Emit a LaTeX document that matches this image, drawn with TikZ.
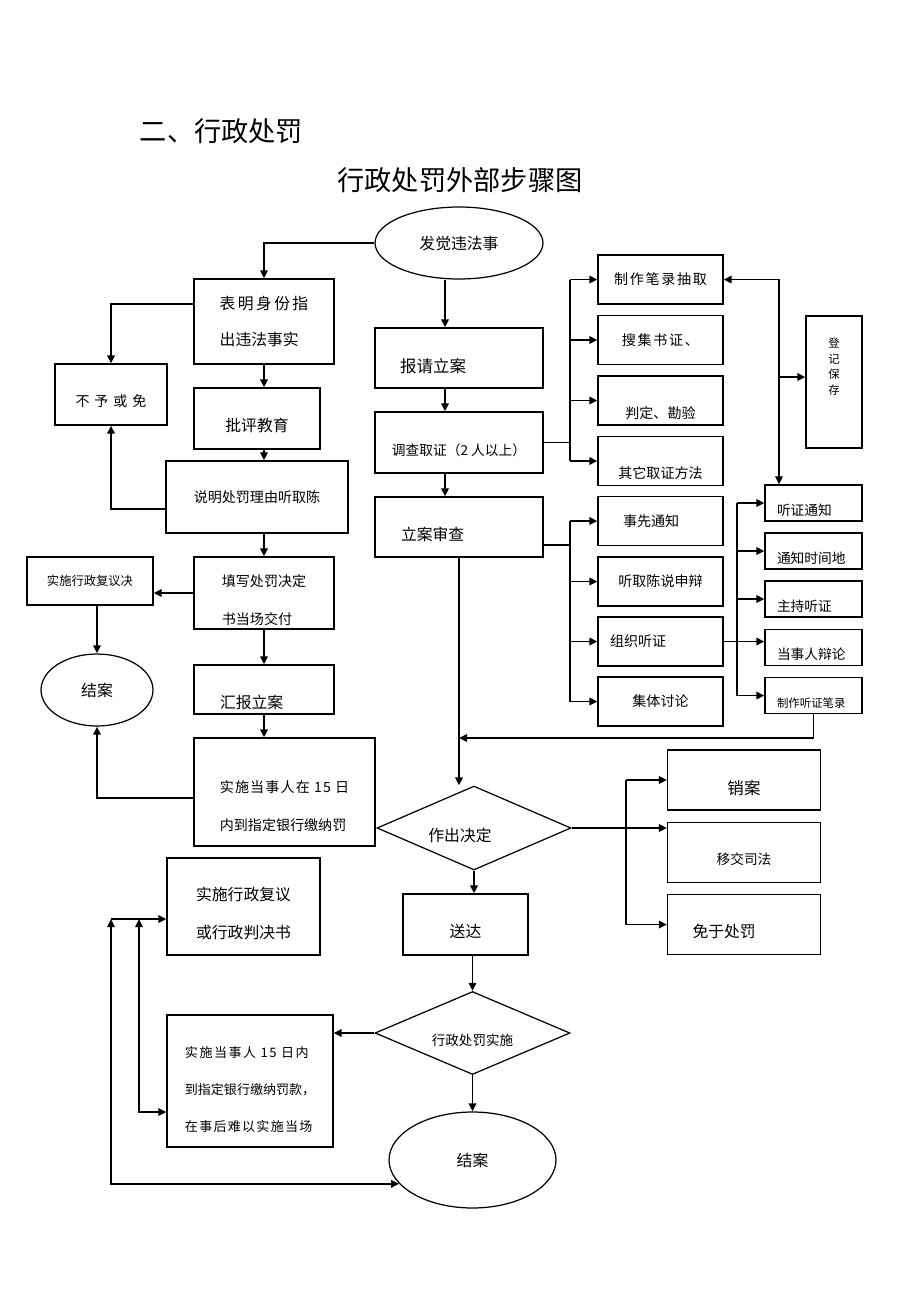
\documentclass[tikz,border=0pt]{standalone}
\usepackage{fontspec}
\setmainfont{Noto Sans CJK SC}
\usetikzlibrary{shapes.geometric, arrows.meta, calc}
\newcommand{\fsz}[2]{\fontsize{#1}{#2}\selectfont}
\newcommand{\lift}[1]{\rule{0pt}{#1}}

\begin{document}
\begin{tikzpicture}[
    x=0.02cm, y=-0.02cm,
    >={Triangle[length=4.6pt,width=4.2pt]},
    box/.style={draw, line width=0.7pt, inner sep=0pt, align=left, font=\fsz{9pt}{21pt}},
    oval/.style={draw, ellipse, line width=0.7pt, inner sep=0pt, font=\fsz{9pt}{11pt}},
    dia/.style={draw, diamond, line width=0.7pt, inner sep=0pt},
    col1/.style={box, minimum width=2.5cm, minimum height=0.98cm, font=\fsz{8pt}{10pt}},
    col2/.style={box, minimum width=1.94cm, minimum height=0.72cm, font=\fsz{7.8pt}{10pt}, lpad={0.24cm}{1.46cm}, sink=14.5pt},
    rbox/.style={box, minimum width=3.06cm, minimum height=1.2cm},
    sink/.style={execute at begin node={\lift{#1}}},
    lpad/.style 2 args={inner xsep=#1, text width=#2},
    link/.style={->, line width=1.1pt},
    wire/.style={line width=1.1pt}
]
    \useasboundingbox (0,0) rectangle (920,1302);

    % titles
    \node (title) [font=\fsz{15.5pt}{18pt}] at (221.5,131) {二、行政处罚};
    \node (subtitle) [font=\fsz{15.5pt}{18pt}] at (460,180) {行政处罚外部步骤图};

    \node (faxian) [oval, minimum width=3.36cm, minimum height=1.44cm] at (459,243) {发觉违法事};

    % left column
    \node (biaoming) [box, minimum width=2.8cm, minimum height=1.7cm] at (264,321.5)
        {{\addfontfeatures{LetterSpace=15}表明身份指}\\出违法事实};
    \node (buyu) [box, minimum width=2.24cm, minimum height=1.22cm, font=\fsz{8pt}{10pt}, sink=14pt] at (111,394.5)
        {\addfontfeatures{LetterSpace=35}不予或免};
    \node (piping) [box, minimum width=2.52cm, minimum height=1.22cm, sink=15pt] at (257,418.5) {批评教育};
    \node (shuoming) [box, minimum width=3.64cm, minimum height=1.44cm, font=\fsz{8pt}{10pt}] at (257,497) {说明处罚理由听取陈};
    \node (tianxie) [box, minimum width=2.8cm, minimum height=1.44cm, font=\fsz{8pt}{21.6pt}] at (264,593)
        {\lift{15pt}填写处罚决定\\书当场交付};
    \node (fuyijue) [box, minimum width=2.52cm, minimum height=0.96cm, font=\fsz{7pt}{9pt}] at (90,581) {实施行政复议决};
    \node (jieanA) [oval, minimum width=2.24cm, minimum height=1.44cm] at (97,690) {结案};
    \node (huibao) [box, minimum width=2.8cm, minimum height=0.98cm, lpad={0.52cm}{1.76cm}, sink=22.9pt] at (264,689.5) {汇报立案};
    \node (shishiA) [box, minimum width=3.62cm, minimum height=2.16cm, font=\fsz{8pt}{21.6pt}] at (284.5,792)
        {\lift{23pt}{\addfontfeatures{LetterSpace=8}实施当事人在 15 日}\\内到指定银行缴纳罚};

    % middle column
    \node (baoqing) [box, minimum width=3.36cm, minimum height=1.2cm, lpad={0.5cm}{2.36cm}, font=\fsz{9.4pt}{11pt}, sink=16.8pt] at (459,358) {报请立案};
    \node (diaocha) [box, minimum width=3.36cm, minimum height=1.22cm, font=\fsz{7.8pt}{10pt}, sink=15pt] at (459,442.5) {调查取证（2 人以上）};
    \node (lian) [box, minimum width=3.36cm, minimum height=1.2cm, lpad={0.52cm}{2.32cm}, sink=15.5pt] at (459,527) {立案审查};

    % evidence boxes
    \node (zhizuo) [col1] at (660.5,279.5) {\addfontfeatures{LetterSpace=12}制作笔录抽取};
    \node (souji) [col1] at (660.5,340) {\addfontfeatures{LetterSpace=12}搜集书证、};
    \node (panding) [col1, sink=21.4pt] at (660.5,400.5) {判定、勘验};
    \node (qita) [col1, sink=20.3pt] at (660.5,461) {其它取证方法};
    \node (dengji) [box, minimum width=1.12cm, minimum height=2.64cm, align=center, font=\fsz{6.5pt}{8.8pt}] at (834,382)
        {登\\记\\保\\存\rule[-18pt]{0pt}{0pt}};

    % review boxes
    \node (shixian) [col1, lpad={0.5cm}{1.5cm}] at (660.5,521) {事先通知};
    \node (tingqu) [col1] at (660.5,581.5) {听取陈说申辩};
    \node (zuzhi) [col1, lpad={0.24cm}{2.02cm}] at (660.5,641.5) {组织听证};
    \node (jiti) [col1] at (660.5,701.5) {集体讨论};

    % hearing boxes
    \node (tzz) [col2] at (813.5,503) {听证通知};
    \node (tzsj) [col2] at (813.5,551) {通知时间地};
    \node (zcz) [col2] at (813.5,599) {主持听证};
    \node (dsr) [col2] at (813.5,647.5) {当事人辩论};
    \node (zzbl) [col2, font=\fsz{6.5pt}{8pt}] at (813.5,695.5) {制作听证笔录};

    % decision
    \node (zuochu) [dia, minimum width=3.88cm, minimum height=1.68cm,
        label={[font=\fsz{9pt}{11pt}, xshift=-0.28cm, yshift=-0.14cm]center:作出决定}] at (474,828) {};
    \node (xiaoan) [rbox, font=\fsz{9.4pt}{11pt}, sink=16.8pt] at (744,780) {销案};
    \node (yijiao) [rbox, font=\fsz{7.8pt}{10pt}, sink=14pt] at (744,852.5) {移交司法};
    \node (mianyu) [rbox, lpad={0.5cm}{2.06cm}, sink=16pt] at (744,924.5) {免于处罚};

    \node (songda) [box, minimum width=2.5cm, minimum height=1.22cm, sink=15pt] at (465.5,924.5) {送达};
    \node (shishi) [dia, minimum width=3.9cm, minimum height=1.66cm,
        label={[font=\fsz{7.7pt}{9pt}, yshift=-0.14cm]center:行政处罚实施}] at (472.5,1033) {};
    \node (jieanB) [oval, minimum width=3.34cm, minimum height=1.92cm] at (472.5,1160) {结案};
    \node (fuyiB) [box, minimum width=3.06cm, minimum height=1.94cm, font=\fsz{9pt}{21.6pt}] at (243.5,906.5)
        {\lift{16pt}实施行政复议\\或行政判决书};
    \node (shishiB) [box, minimum width=3.32cm, minimum height=2.64cm, font=\fsz{7.4pt}{21.3pt}] at (250,1081)
        {\lift{16pt}{\addfontfeatures{LetterSpace=12}实施当事人 15 日内}\\到指定银行缴纳罚款，\\{\addfontfeatures{LetterSpace=10}在事后难以实施当场}};

    % arrows, left side
    \draw[link] (faxian.west) -| (biaoming.north);
    \draw[link] ([yshift=0.35cm]biaoming.west) -| (buyu.north);
    \draw[link] (biaoming.south) -- (biaoming.south |- piping.north);
    \draw[link] (biaoming.south |- piping.south) -- (biaoming.south |- shuoming.north);
    \draw[link] ([yshift=-0.24cm]shuoming.west) -| (buyu.south);
    \draw[link] (biaoming.south |- shuoming.south) -- (tianxie.north);
    \draw[link] (tianxie.west) -- (tianxie.west -| fuyijue.east);
    \draw[link] (jieanA.north |- fuyijue.south) -- (jieanA.north);
    \draw[link] (tianxie.south) -- (huibao.north);
    \draw[link] (huibao.south) -- (huibao.south |- shishiA.north);
    \draw[link] ([yshift=-0.12cm]shishiA.west) -| (jieanA.south);

    % arrows, middle
    \coordinate (ax) at (445,0);
    \draw[link] (ax |- faxian.south) -- (ax |- baoqing.north);
    \draw[link] (ax |- baoqing.south) -- (ax |- diaocha.north);
    \draw[link] (ax |- diaocha.south) -- (ax |- lian.north);

    \coordinate (bx1) at (570,0);
    \draw[wire] (diaocha.east) -- (bx1 |- diaocha.east);
    \draw[wire] (bx1 |- zhizuo.west) -- (bx1 |- qita.west);
    \foreach \n in {zhizuo, souji, panding, qita}
        \draw[link] (bx1 |- \n.west) -- (\n.west);

    \coordinate (lianout) at ([yshift=-0.36cm]lian.east);
    \draw[wire] (lianout) -- (bx1 |- lianout);
    \draw[wire] (bx1 |- shixian.west) -- (bx1 |- jiti.west);
    \foreach \n in {shixian, tingqu, zuzhi, jiti}
        \draw[link] (bx1 |- \n.west) -- (\n.west);

    \coordinate (bx2) at (779,0);
    \draw[link, <->] (zhizuo.east) -- (bx2 |- zhizuo.east) -- (bx2 |- tzz.north);
    \coordinate (dgin) at ([yshift=0.1cm]dengji.west);
    \draw[link] (bx2 |- dgin) -- (dgin);

    \coordinate (bx3) at (737,0);
    \draw[link] (zuzhi.east) -- (zuzhi.east -| dsr.west);
    \draw[wire] (bx3 |- tzz.west) -- (bx3 |- zzbl.west);
    \foreach \n in {tzz, tzsj, zcz, zzbl}
        \draw[link] (bx3 |- \n.west) -- (\n.west);

    \coordinate (mx) at (459,738);
    \draw[link] (zzbl.south) |- (mx);
    \draw[link] (lian.south) -- (lian.south |- zuochu.north);

    % arrows, decision
    \coordinate (bx4) at (626,0);
    \draw[link] (zuochu.east) -- (zuochu.east -| yijiao.west);
    \draw[wire] (bx4 |- xiaoan.west) -- (bx4 |- mianyu.west);
    \foreach \n in {xiaoan, mianyu}
        \draw[link] (bx4 |- \n.west) -- (\n.west);

    \draw[link] (zuochu.south) -- (zuochu.south |- songda.north);
    \draw[link] (shishi.north |- songda.south) -- (shishi.north);
    \draw[link] (shishi.west) -- (shishi.west -| shishiB.east);
    \draw[link] (shishi.south) -- (jieanB.north);

    \coordinate (lx1) at (111,919);
    \coordinate (lx2) at (139,919);
    \coordinate (sbin) at ([yshift=-0.62cm]shishiB.west);
    \draw[link] (lx1) -- (lx1 -| fuyiB.west);
    \draw[link, <->] (lx2) |- (sbin);
    \draw[link, <->] (lx1) |- (jieanB.198);
\end{tikzpicture}
\end{document}
